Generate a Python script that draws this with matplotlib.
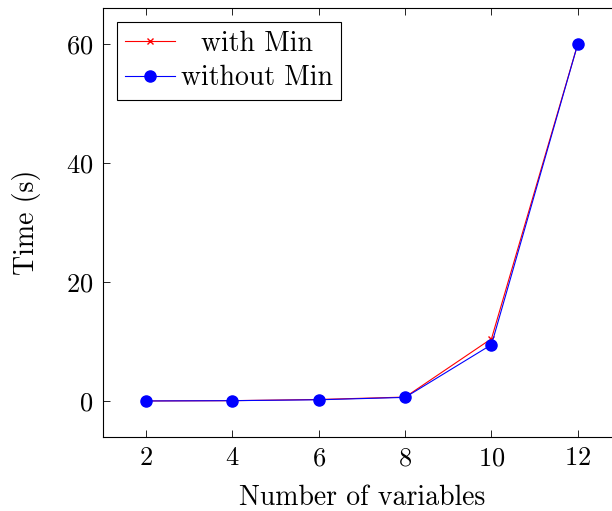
import numpy as np
import matplotlib.pyplot as plt

# datos
variables = [2, 4, 6, 8, 10, 12]
con_min = [0.05, 0.1, 0.3, 0.7, 10.5, 60]
sin_min = [0.05, 0.1, 0.25, 0.65, 9.5, 60]

plt.rcParams['font.family'] = 'serif'
plt.rcParams['font.serif'] = ['cmr10', 'DejaVu Serif']
plt.rcParams['mathtext.fontset'] = 'cm'
plt.rcParams['axes.formatter.use_mathtext'] = True

fig = plt.figure(figsize=(6.12, 5.11), dpi=100)
ax = fig.add_axes([0.1683, 0.1448, 0.8464, 0.8395])

ax.plot(variables, con_min, color='red', marker='x', markersize=5, linewidth=0.8, label='with Min')
ax.plot(variables, sin_min, color='blue', marker='o', markersize=8, linewidth=0.8, label='without Min')

ax.set_xlim(1, 13)
ax.set_ylim(-6, 66)
ax.set_xticks([2, 4, 6, 8, 10, 12])
ax.set_yticks([0, 20, 40, 60])
ax.tick_params(direction='in', top=True, right=True, labelsize=19, length=5, width=0.6, pad=7)
for s in ax.spines.values():
    s.set_linewidth(0.8)

ax.set_xlabel('Number of variables', fontsize=20, labelpad=10)
ax.set_ylabel('Time (s)', fontsize=20, labelpad=18)

leg = ax.legend(loc='upper left', fontsize=20, fancybox=False, edgecolor='black', framealpha=1,
                borderaxespad=0.5, handlelength=1.8, handletextpad=0.2, borderpad=0.3, labelspacing=0.3)
leg.get_frame().set_linewidth(0.8)

# centrar los textos de la leyenda como en pgfplots
fig.canvas.draw()
textos = leg.get_texts()
anchos = [t.get_window_extent().width for t in textos]
ancho_max = max(anchos)
for t, w in zip(textos, anchos):
    t.set_transform(t.get_transform() + plt.matplotlib.transforms.Affine2D().translate((ancho_max - w) / 2, 0))

plt.savefig('out.png', dpi=100)
